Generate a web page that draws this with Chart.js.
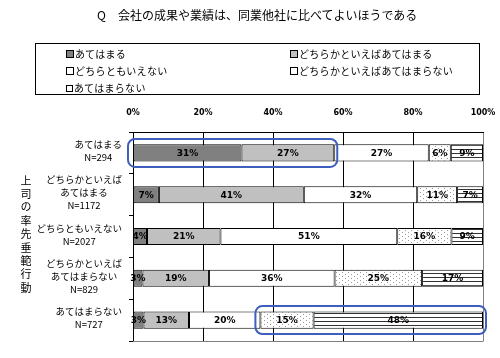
<!DOCTYPE html>
<html>
<head>
<meta charset="utf-8">
<script src="https://cdn.jsdelivr.net/npm/chart.js@4.4.0/dist/chart.umd.min.js"></script>
<style>
    body { margin: 0; background: #fff; }
    #wrap { position: relative; width: 500px; height: 358px; font-family: "Noto Sans CJK JP", sans-serif; color: #000; }
    #chart { position: absolute; left: 0; top: 0; }
    #title { position: absolute; left: 97px; top: 7px; font-size: 12px; line-height: 16px; white-space: nowrap; }
    #legend { position: absolute; left: 35px; top: 43px; width: 443px; height: 50px; border: 1px solid #000; }
    .item { position: absolute; font-size: 10px; line-height: 12px; white-space: nowrap; letter-spacing: 0.3px; }
    .sw { display: inline-block; width: 6px; height: 6px; border: 1px solid #000; margin-right: 1px; vertical-align: 0px; }
    #ytitle { position: absolute; left: 19px; top: 175px; font-size: 11px; writing-mode: vertical-rl; letter-spacing: 2.4px; line-height: 14px; }
</style>
</head>
<body>
<div id="wrap">
    <canvas id="chart" width="500" height="358"></canvas>
    <div id="title">Q　会社の成果や業績は、同業他社に比べてよいほうである</div>
    <div id="legend"></div>
    <div id="ytitle">上司の率先垂範行動</div>
</div>
<script>
// ===================================
// データ
// ===================================
const categories = [
    ['あてはまる', 'N=294'],
    ['どちらかといえば', 'あてはまる', 'N=1172'],
    ['どちらともいえない', 'N=2027'],
    ['どちらかといえば', 'あてはまらない', 'N=829'],
    ['あてはまらない', 'N=727']
];
const seriesNames = ['あてはまる', 'どちらかといえばあてはまる', 'どちらともいえない', 'どちらかといえばあてはまらない', 'あてはまらない'];
const atehamaru = [31, 7.4, 4, 2.7, 3];
const dochirakaAtehamaru = [26.5, 41.4, 21, 19, 13];
const dochiramo = [27, 32.4, 50.5, 35.9, 20.4];
const dochirakaAtehamaranai = [6.3, 11.4, 15.5, 25, 15.2];
const atehamaranai = [9.2, 7.4, 9, 17.4, 48.4];
const xTicks = [0, 20, 40, 60, 80, 100];

/**
 * パターン塗り（点・横線）
 */
function makePattern(w, h, draw) {
    const c = document.createElement('canvas');
    c.width = w; c.height = h;
    const g = c.getContext('2d');
    g.fillStyle = '#fff';
    g.fillRect(0, 0, w, h);
    draw(g);
    return g.createPattern(c, 'repeat');
}
const dotPattern = makePattern(6, 4, g => {
    g.fillStyle = '#999';
    g.fillRect(0, 0, 1, 1);
    g.fillRect(3, 2, 1, 1);
});
const linePattern = makePattern(4, 4, g => {
    g.fillStyle = '#333';
    g.fillRect(0, 1, 4, 1);
});

const fills = ['#808080', '#c0c0c0', '#ffffff', dotPattern, linePattern];
const seriesData = [atehamaru, dochirakaAtehamaru, dochiramo, dochirakaAtehamaranai, atehamaranai];

// 凡例（HTML）
const legendPos = [[30, 8], [254, 8], [30, 25], [254, 25], [30, 42]];
const swatchColors = ['#808080', '#c0c0c0', '#fff', '#fff', '#fff'];
document.getElementById('legend').innerHTML = seriesNames.map((name, i) => `
    <div class="item" style="left:${legendPos[i][0]}px;top:${legendPos[i][1] - 4}px">
        <span class="sw" style="background:${swatchColors[i]};${i === 4 ? 'border-width:1.5px;width:5px;height:5px;' : ''}"></span>${name}
    </div>
`).join('');

// 棒の中のラベル、Y軸ラベル、枠、青い囲み
const extrasPlugin = {
    id: 'extras',
    afterDatasetsDraw(chart) {
        const ctx = chart.ctx;
        ctx.save();
        ctx.font = 'bold 9px "DejaVu Sans", sans-serif';
        ctx.fillStyle = '#000';
        ctx.textAlign = 'center';
        ctx.textBaseline = 'middle';
        chart.data.datasets.forEach((ds, di) => {
            chart.getDatasetMeta(di).data.forEach((el, i) => {
                const v = ds.data[i];
                ctx.fillText(Math.round(v) + '%', (el.x + el.base) / 2, el.y + 0.5);
            });
        });
        ctx.restore();
    },
    afterDraw(chart) {
        const ctx = chart.ctx;
        const xs = chart.scales.x;
        const ys = chart.scales.y;
        const area = chart.chartArea;
        ctx.save();

        // 下の枠（グレー）
        ctx.strokeStyle = '#808080';
        ctx.lineWidth = 1;
        ctx.beginPath();
        ctx.moveTo(area.left, area.bottom + 0.5);
        ctx.lineTo(area.right + 0.5, area.bottom + 0.5);
        ctx.stroke();

        // Y軸ラベル（行ごとに中央揃え）
        ctx.font = '9.5px "Noto Sans CJK JP", sans-serif';
        ctx.fillStyle = '#000';
        ctx.textAlign = 'center';
        ctx.textBaseline = 'middle';
        const lh = 13;
        categories.forEach((lines, i) => {
            const bw = Math.max(...lines.map(t => ctx.measureText(t).width));
            const cx = 122 - bw / 2;
            const y0 = ys.getPixelForValue(i) - 2 - (lines.length - 1) * lh / 2;
            lines.forEach((t, k) => ctx.fillText(t, cx, y0 + k * lh));
        });

        // 青い囲み
        ctx.strokeStyle = '#3f5fbf';
        ctx.lineWidth = 2;
        const box = (row, from, to) => {
            const x1 = xs.getPixelForValue(from) - 5;
            const x2 = xs.getPixelForValue(to) + 3;
            const yc = ys.getPixelForValue(row);
            ctx.beginPath();
            ctx.roundRect(x1, yc - 14, x2 - x1, 28, 7);
            ctx.stroke();
        };
        box(0, 0, atehamaru[0] + dochirakaAtehamaru[0]);
        box(4, atehamaru[4] + dochirakaAtehamaru[4] + dochiramo[4], 100);
        ctx.restore();
    }
};

new Chart(document.getElementById('chart'), {
    type: 'bar',
    data: {
        labels: categories,
        datasets: seriesData.map((data, i) => ({
            label: seriesNames[i],
            data: data,
            backgroundColor: fills[i],
            borderColor: '#000',
            borderWidth: 1,
            borderSkipped: false,
            barPercentage: 0.41,
            categoryPercentage: 1
        }))
    },
    options: {
        indexAxis: 'y',
        responsive: false,
        animation: false,
        layout: { padding: { top: 104, left: 0, right: 17, bottom: 17 } },
        plugins: {
            legend: { display: false },
            tooltip: { enabled: false }
        },
        scales: {
            x: {
                position: 'top',
                stacked: true,
                min: 0,
                max: 100,
                afterBuildTicks: scale => { scale.ticks = xTicks.map(v => ({ value: v })); },
                afterFit: scale => {
                    scale.height = 28;
                    scale.paddingLeft = 0;
                    scale.paddingRight = 0;
                },
                ticks: {
                    padding: 14,
                    font: { family: '"DejaVu Sans", sans-serif', size: 8, weight: 'bold' },
                    color: '#000',
                    callback: v => v + '%'
                },
                grid: {
                    drawTicks: false,
                    color: ctx => (ctx.tick && ctx.tick.value === 100) ? '#808080' : '#000'
                },
                border: { color: '#000' }
            },
            y: {
                stacked: true,
                afterFit: scale => { scale.width = 133; },
                ticks: { display: false },
                grid: {
                    offset: true,
                    drawOnChartArea: false,
                    drawTicks: true,
                    tickLength: 4,
                    color: '#000'
                },
                border: { color: '#000' }
            }
        }
    },
    plugins: [extrasPlugin]
});
</script>
</body>
</html>
